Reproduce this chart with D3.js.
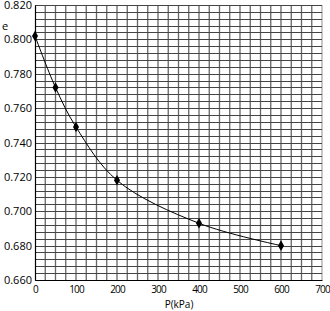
<!doctype html>
<html>
<head>
<meta charset="utf-8">
<script src="https://d3js.org/d3.v7.min.js"></script>
<style>
  body { margin: 0; background: #fff; }
  text { font-family: "Open Sans", sans-serif; font-size: 11px; fill: #000; }
</style>
</head>
<body>
<svg id="svg" width="330" height="311"></svg>
<script>
// data
const pressure = [0, 50, 100, 200, 400, 600];
const voidRatio = [0.802, 0.772, 0.749, 0.718, 0.693, 0.680];
const xTicks = [0, 100, 200, 300, 400, 500, 600, 700];
const yTicks = [0.660, 0.680, 0.700, 0.720, 0.740, 0.760, 0.780, 0.800, 0.820];

const width = 330, height = 311;
const margin = { top: 5, right: 8, bottom: 31, left: 35 };

const svg = d3.select("#svg");

const xScale = d3.scaleLinear().domain([0, 700]).range([margin.left, width - margin.right]);
const yScale = d3.scaleLinear().domain([0.66, 0.82]).range([height - margin.bottom, margin.top]);

// grid: 25 kPa and 0.004 steps
const grid = svg.append("g");
grid.selectAll("line.v")
  .data(d3.range(25, 701, 25))
  .join("line")
  .attr("class", "v")
  .attr("x1", d => xScale(d)).attr("x2", d => xScale(d))
  .attr("y1", yScale(0.66)).attr("y2", yScale(0.82))
  .attr("stroke", d => d === 700 ? "#aaa" : "#666")
  .attr("stroke-width", 1.3);

grid.selectAll("line.h")
  .data(d3.range(0, 41).map(i => 0.66 + i * 0.004))
  .join("line")
  .attr("class", "h")
  .attr("x1", xScale(0)).attr("x2", xScale(700))
  .attr("y1", d => Math.round(yScale(d)) + 0.5).attr("y2", d => Math.round(yScale(d)) + 0.5)
  .attr("stroke", "#444")
  .attr("stroke-width", 1);

// axes
const xAxis = svg.append("g")
  .attr("transform", `translate(0,${yScale(0.66)})`)
  .call(d3.axisBottom(xScale).tickValues(xTicks).tickSize(0).tickPadding(6).tickFormat(d3.format("d")));
xAxis.select(".domain").attr("stroke", "#000").attr("stroke-width", 1.2);
xAxis.selectAll(".tick text")
  .style("font-family", "'Open Sans', sans-serif")
  .style("font-size", "10px")
  .style("letter-spacing", "-0.8px");

const yAxis = svg.append("g")
  .attr("transform", `translate(${xScale(0)},0)`)
  .call(d3.axisLeft(yScale).tickValues(yTicks).tickSize(0).tickPadding(3).tickFormat(d3.format(".3f")));
yAxis.select(".domain").attr("stroke", "#000").attr("stroke-width", 1.2);
yAxis.selectAll(".tick text")
  .style("font-family", "'Open Sans', sans-serif")
  .style("font-size", "11px");

// axis titles
svg.append("text").attr("x", 2).attr("y", 30).text("e");
svg.append("text").attr("x", 179).attr("y", 308).attr("text-anchor", "middle")
  .style("font-size", "10px").text("P(kPa)");

// curve
const pts = pressure.map((p, i) => [p, voidRatio[i]]);
const line = d3.line()
  .x(d => xScale(d[0]))
  .y(d => yScale(d[1]))
  .curve(d3.curveCatmullRom.alpha(0.5));

svg.append("path")
  .datum(pts)
  .attr("d", line)
  .attr("fill", "none")
  .attr("stroke", "#000")
  .attr("stroke-width", 1);

svg.selectAll("path.mark")
  .data(pts)
  .join("path")
  .attr("class", "mark")
  .attr("transform", d => `translate(${xScale(d[0])},${yScale(d[1])})`)
  .attr("d", d3.symbol(d3.symbolDiamond, 32))
  .attr("fill", "#000");
</script>
</body>
</html>
